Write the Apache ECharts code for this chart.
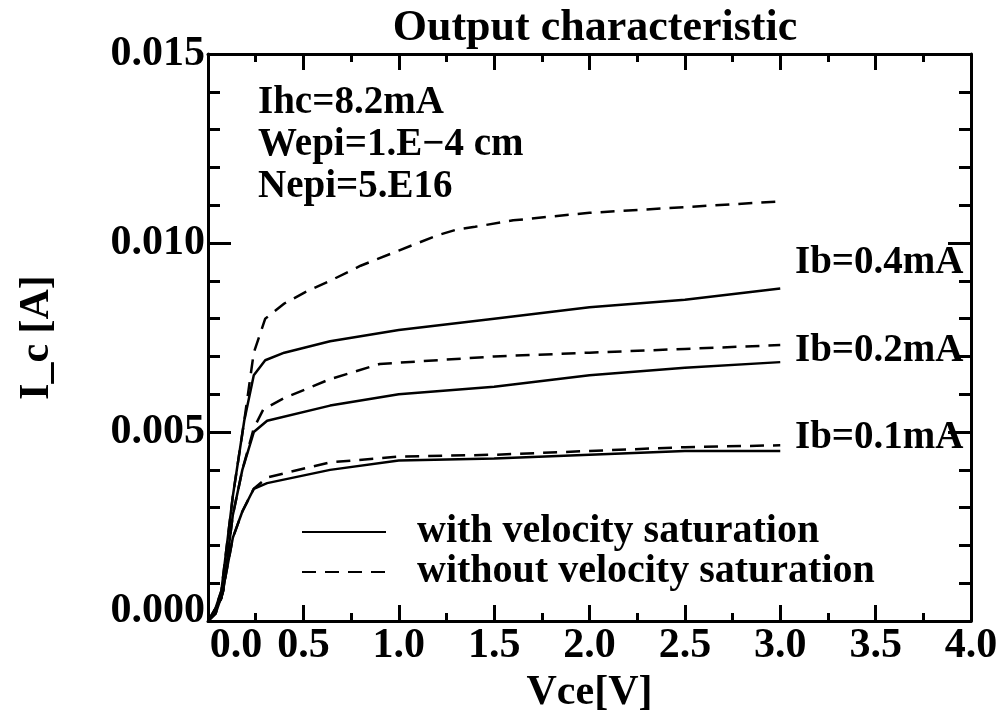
<!DOCTYPE html>
<html>
<head>
<meta charset="utf-8">
<script src="https://cdn.jsdelivr.net/npm/echarts@6/dist/echarts.min.js"></script>
<style>html,body{margin:0;padding:0;background:#fff}#c{width:1001px;height:719px}</style>
</head>
<body>
<div id="c"></div>
<script>
// Vce [V], Ic [A]
const solid04 = [[0,0],[0.03,0.0002],[0.07,0.0008],[0.13,0.0033],[0.19,0.0053],[0.24,0.0065],[0.3,0.0069],[0.4,0.0071],[0.64,0.0074],[1.0,0.0077],[1.5,0.0080],[2.0,0.0083],[2.5,0.0085],[3.0,0.0088]];
const dashed04 = [[0,0],[0.03,0.0002],[0.07,0.0008],[0.13,0.0033],[0.19,0.0053],[0.24,0.0071],[0.3,0.0080],[0.4,0.0084],[0.51,0.0087],[0.64,0.0090],[0.8,0.0094],[1.0,0.0098],[1.2,0.0102],[1.3,0.01035],[1.4,0.01043],[1.6,0.0106],[2.0,0.0108],[2.5,0.01095],[3.0,0.0111]];
const solid02 = [[0,0],[0.04,0.0002],[0.08,0.0008],[0.13,0.0028],[0.18,0.0040],[0.24,0.0050],[0.31,0.0053],[0.64,0.0057],[1.0,0.0060],[1.5,0.0062],[2.0,0.0065],[2.5,0.0067],[3.0,0.00685]];
const dashed02 = [[0,0],[0.04,0.0002],[0.08,0.0008],[0.13,0.0028],[0.18,0.0040],[0.24,0.0051],[0.29,0.0056],[0.4,0.0059],[0.64,0.0064],[0.9,0.0068],[1.5,0.0070],[2.0,0.0071],[2.5,0.0072],[3.0,0.0073]];
const solid01 = [[0,0],[0.07,0.0006],[0.13,0.0022],[0.18,0.0029],[0.24,0.0035],[0.31,0.00365],[0.64,0.0040],[1.0,0.00425],[1.5,0.0043],[2.0,0.0044],[2.5,0.0045],[3.0,0.0045]];
const dashed01 = [[0,0],[0.07,0.0006],[0.13,0.0022],[0.18,0.0029],[0.24,0.0035],[0.31,0.0038],[0.64,0.0042],[1.0,0.00435],[1.5,0.0044],[2.0,0.0045],[2.5,0.0046],[3.0,0.00465]];

const legendNames = ['with velocity saturation', 'without velocity saturation'];
const curveLabels = ['Ib=0.4mA', 'Ib=0.2mA', 'Ib=0.1mA'];
const paramLines = ['Ihc=8.2mA', 'Wepi=1.E\u22124 cm', 'Nepi=5.E16'];
const titleText = 'Output characteristic';
const xName = 'Vce[V]';
const yName = 'I_c [A]';

const FONT = '"Liberation Serif", "Times New Roman", serif';
const chart = echarts.init(document.getElementById('c'), null, {renderer: 'canvas'});

function axisCommon(extra) {
  return Object.assign({
    type: 'value',
    axisLine: {show: true, onZero: false, lineStyle: {color: '#000', width: 3}},
    splitLine: {show: false},
  }, extra);
}
const xTick = {show: true, inside: true, length: 16, lineStyle: {color: '#000', width: 3}};
const xMinor = {show: true, splitNumber: 2, length: 8, lineStyle: {color: '#000', width: 3}};
const yTick = {show: true, inside: true, length: 23, lineStyle: {color: '#000', width: 3}};
const yMinor = {show: true, splitNumber: 5, length: 12, lineStyle: {color: '#000', width: 3}};

function mkSeries(name, data, dashed) {
  return {
    type: 'line', name: name, data: data, symbol: 'none', showSymbol: false, smooth: false,
    lineStyle: {color: '#000', width: 2.5, type: dashed ? [14, 9] : 'solid'},
    itemStyle: {color: '#000'},
    z: 3
  };
}

chart.setOption({
  animation: false,
  backgroundColor: '#fff',
  title: {
    text: titleText, left: 590, top: 2, textAlign: 'center',
    textStyle: {fontFamily: FONT, fontWeight: 'bold', fontSize: 44, color: '#000'}
  },
  grid: {left: 208, right: 30, top: 54, bottom: 94},
  legend: {
    show: true,
    data: legendNames,
    orient: 'vertical', left: 296, top: 507,
    itemWidth: 84, itemHeight: 20, itemGap: 0,
    itemStyle: {opacity: 0},
    textStyle: {fontFamily: FONT, fontWeight: 'bold', fontSize: 40, lineHeight: 36, color: '#000', padding: [0, 0, 0, 26]},
    selectedMode: false
  },
  xAxis: [
    axisCommon({
      position: 'bottom', min: 0, max: 4, interval: 0.5,
      axisTick: xTick, minorTick: xMinor,
      name: xName, nameLocation: 'middle', nameGap: 50,
      nameTextStyle: {fontFamily: FONT, fontWeight: 'bold', fontSize: 42, color: '#000'},
      axisLabel: {
        margin: 4, color: '#000', fontFamily: FONT, fontWeight: 'bold', fontSize: 42,
        formatter: v => v === 0 ? '{p|0.0}' : v.toFixed(1),
        rich: {p: {padding: [0, 0, 0, 56], fontFamily: FONT, fontWeight: 'bold', fontSize: 42, color: '#000'}}
      }
    }),
    axisCommon({
      position: 'top', min: 0, max: 4, interval: 0.5,
      axisTick: xTick, minorTick: xMinor, axisLabel: {show: false}
    })
  ],
  yAxis: [
    axisCommon({
      position: 'left', min: 0, max: 0.015, interval: 0.005,
      axisTick: yTick, minorTick: yMinor,
      name: yName, nameLocation: 'middle', nameGap: 150, nameRotate: 90,
      nameTextStyle: {fontFamily: FONT, fontWeight: 'bold', fontSize: 42, color: '#000'},
      axisLabel: {
        margin: 3, color: '#000', fontFamily: FONT, fontWeight: 'bold', fontSize: 42,
        formatter: v => v === 0 ? '{p|0.000}' : v.toFixed(3),
        rich: {p: {padding: [0, 0, 20, 0], fontFamily: FONT, fontWeight: 'bold', fontSize: 42, color: '#000'}}
      }
    }),
    axisCommon({
      position: 'right', min: 0, max: 0.015, interval: 0.005,
      axisTick: yTick, minorTick: yMinor, axisLabel: {show: false}
    })
  ],
  graphic: [
    ...paramLines.map((t, i) => ({
      type: 'text', left: 258, top: 83 + i * 42, z: 10,
      style: {text: t, font: 'bold 39px ' + FONT, fill: '#000'}
    })),
    ...curveLabels.map((t, i) => ({
      type: 'text', left: 795, top: [243, 331, 418][i], z: 10,
      style: {text: t, font: 'bold 39px ' + FONT, fill: '#000'}
    }))
  ],
  series: [
    mkSeries(legendNames[0], solid04, false),
    mkSeries(legendNames[1], dashed04, true),
    mkSeries(legendNames[0], solid02, false),
    mkSeries(legendNames[1], dashed02, true),
    mkSeries(legendNames[0], solid01, false),
    mkSeries(legendNames[1], dashed01, true)
  ]
});
</script>
</body>
</html>
